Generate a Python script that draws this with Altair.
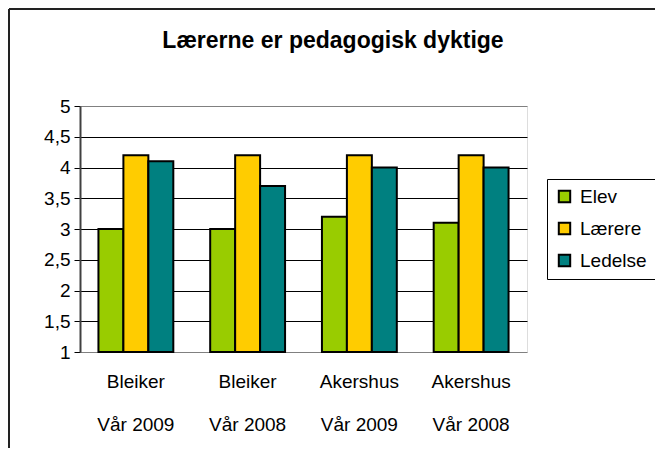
import altair as alt
import pandas as pd

title_text = "Lærerne er pedagogisk dyktige"
sites = ["Bleiker", "Bleiker", "Akershus", "Akershus"]
periods = ["Vår 2009", "Vår 2008", "Vår 2009", "Vår 2008"]
series = ["Elev", "Lærere", "Ledelse"]
elev = [3.0, 3.0, 3.2, 3.1]
laerere = [4.2, 4.2, 4.2, 4.2]
ledelse = [4.1, 3.7, 4.0, 4.0]
colors = ["#99CC00", "#FFCC00", "#008080"]
y_ticks = [1, 1.5, 2, 2.5, 3, 3.5, 4, 4.5, 5]

groups = [f"{s}|{p}" for s, p in zip(sites, periods)]
rows = []
for i, g in enumerate(groups):
    for name, vals in zip(series, [elev, laerere, ledelse]):
        rows.append({"group": g, "order": i, "series": name, "value": vals[i]})
df = pd.DataFrame(rows)

FONT = "Liberation Sans"
FS = 19

bars = alt.Chart(df).mark_bar(stroke="black", strokeWidth=2).encode(
    x=alt.X("group:N", sort=groups, title=None,
            scale=alt.Scale(paddingInner=0.33, paddingOuter=0.165),
            axis=alt.Axis(labelExpr="split(datum.value, '|')", labelAngle=0,
                          ticks=False, domain=False, labelFontSize=FS,
                          labelLineHeight=43, labelPadding=20, labelColor="black",
                          labelFont=FONT)),
    xOffset=alt.XOffset("series:N", sort=series, scale=alt.Scale(paddingInner=0, paddingOuter=0)),
    y=alt.Y("value:Q", title=None,
            scale=alt.Scale(domain=[1, 5], nice=False, zero=False),
            axis=alt.Axis(values=y_ticks,
                          labelExpr="replace(toString(datum.value), '.', ',')",
                          labelFontSize=FS, labelColor="black", labelFont=FONT,
                          labelPadding=4, tickSize=6, tickColor="black",
                          domainColor="#404040", domainWidth=2,
                          gridColor=alt.condition("datum.value == 5 || datum.value == 1",
                                                  alt.value("#808080"), alt.value("black")),
                          gridWidth=1)),
    y2=alt.datum(1),
    color=alt.Color("series:N", sort=series,
                    scale=alt.Scale(domain=series, range=colors),
                    legend=alt.Legend(title=None, orient="none", legendX=467, legendY=73,
                                      fillColor="white", strokeColor="#000000",
                                      padding=8, rowPadding=11, symbolType="square",
                                      symbolSize=130, symbolStrokeColor="black",
                                      symbolStrokeWidth=2, symbolOpacity=1,
                                      labelFontSize=FS, labelFont=FONT, labelColor="black",
                                      labelOffset=6)),
)

one_row = pd.DataFrame({"a": [0]})
title_mark = alt.Chart(one_row).mark_text(
    font=FONT, fontSize=23, fontWeight="bold", color="black",
    align="center", baseline="alphabetic").encode(
    x=alt.value(253), y=alt.value(-58), text=alt.value(title_text))
top_rule = alt.Chart(one_row).mark_rule(color="#222222", strokeWidth=2).encode(
    x=alt.value(-71), x2=alt.value(700), y=alt.value(-97))
left_rule = alt.Chart(one_row).mark_rule(color="#222222", strokeWidth=2).encode(
    x=alt.value(-71), y=alt.value(-97), y2=alt.value(500))

chart = alt.layer(bars, title_mark, top_rule, left_rule).properties(
    width=447, height=246,
    padding={"left": 72, "top": 98, "right": 128, "bottom": 96},
    autosize=alt.AutoSizeParams(type="none"),
).configure_view(stroke="#808080", strokeWidth=2).configure(background="white")

chart.save("out.html", embed_options={"renderer": "svg", "actions": False})
